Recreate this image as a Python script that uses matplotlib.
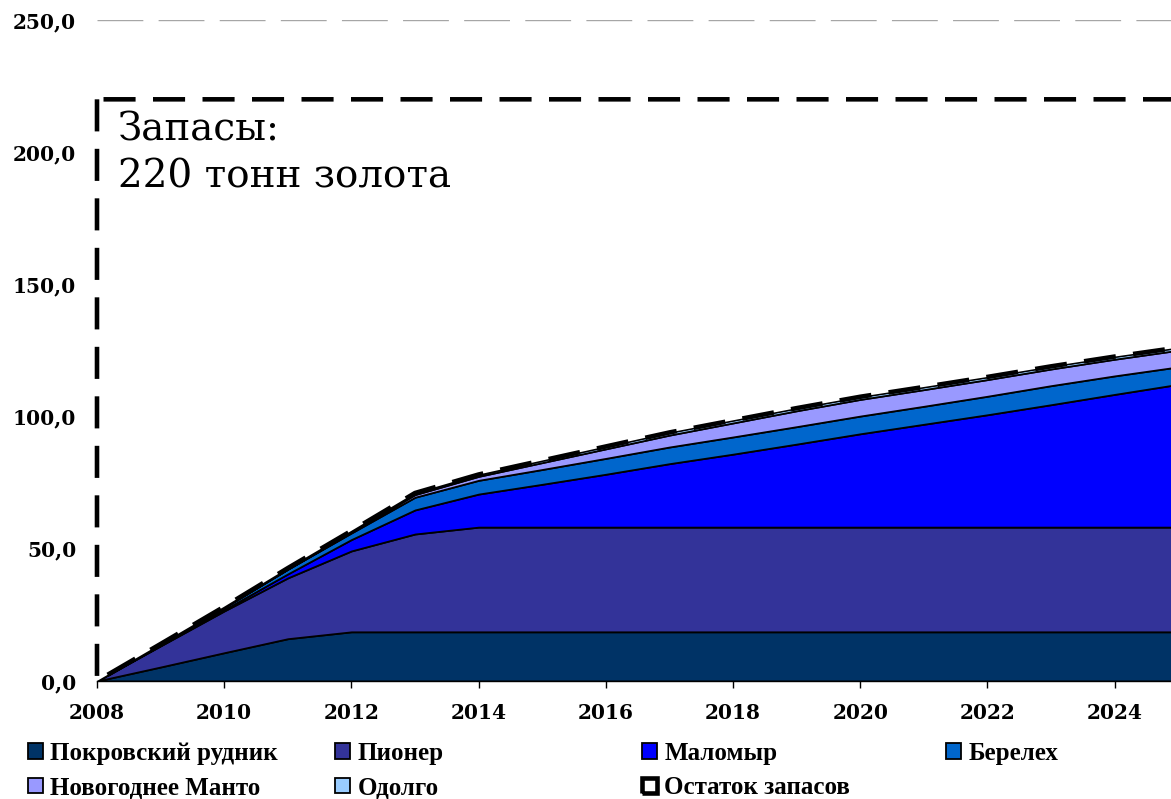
import matplotlib
matplotlib.use("Agg")
import matplotlib.pyplot as plt
import numpy as np

# ------------------ DATA (t of gold, cumulative by deposit) ------------------
years = list(range(2008, 2026))
pokrovsky = [0, 5.3, 10.7, 16.0, 18.6, 18.6, 18.6, 18.6, 18.6, 18.6, 18.6, 18.6, 18.6, 18.6, 18.6, 18.6, 18.6, 18.6]
pioneer = [0, 8.0, 15.8, 23.0, 30.6, 37.0, 39.6, 39.6, 39.6, 39.6, 39.6, 39.6, 39.6, 39.6, 39.6, 39.6, 39.6, 39.6]
malomyr = [0, 0.2, 0.5, 1.5, 4.3, 9.1, 12.5, 16.2, 20.0, 24.0, 27.6, 31.4, 35.3, 38.9, 42.5, 46.3, 50.2, 54.0]
berelekh = [0, 0.3, 0.8, 1.8, 2.5, 4.8, 5.2, 5.6, 6.0, 6.3, 6.5, 6.6, 6.7, 6.8, 7.0, 7.2, 7.0, 6.6]
novogodnee = [0, 0, 0, 0, 0.3, 1.0, 1.5, 2.6, 3.6, 4.5, 5.3, 6.0, 6.3, 6.3, 6.3, 6.3, 6.3, 6.3]
odolgo = [0, 0.2, 0.3, 0.4, 0.5, 0.6, 0.7, 0.8, 0.9, 1.0, 1.0, 1.0, 1.0, 1.0, 1.0, 1.0, 1.0, 1.0]
TOTAL_RESERVES = 220

labels = ['Покровский рудник', 'Пионер', 'Маломыр', 'Берелех',
          'Новогоднее Манто', 'Одолго', 'Остаток запасов']
colors = ['#003366', '#333399', '#0000FF', '#0066CC', '#9999FF', '#99CCFF', 'white']

mined = np.array([pokrovsky, pioneer, malomyr, berelekh, novogodnee, odolgo])
remainder = TOTAL_RESERVES - mined.sum(axis=0)

# ------------------ PLOT ------------------
fig = plt.figure(figsize=(11.71, 7.99), dpi=100)
ax = fig.add_axes([97 / 1171, 118 / 799, 1 - 97 / 1171, 661 / 799])

polys = ax.stackplot(years, *mined, remainder, labels=labels, colors=colors,
                     edgecolor='black', linewidth=1.3, zorder=2)

# "remaining reserves" area: white with heavy dashed border
rest = polys[-1]
rest.set_linewidth(3.3)
rest.set_linestyle((0, (7, 3.8)))
rest.set_clip_on(False)
rest.set_zorder(3)

# solid outline of the mined total under the dashes
ax.plot(years, mined.sum(axis=0), color='black', linewidth=1.8, zorder=2.5)

ax.set_xlim(2008, 2008 + (1171 - 97) / 63.6)
ax.set_ylim(0, 250)

ax.set_yticks(np.arange(0, 251, 50))
ax.set_yticklabels([f'{v:.1f}'.replace('.', ',') for v in np.arange(0, 251, 50)])
ax.set_xticks(range(2008, 2025, 2))

tick_font = dict(family='DejaVu Serif', weight='bold', size=14.5)
for lbl in ax.get_xticklabels() + ax.get_yticklabels():
    lbl.set_fontproperties(matplotlib.font_manager.FontProperties(**tick_font))

ax.tick_params(axis='y', length=0, pad=15)
ax.tick_params(axis='x', length=5, width=1, direction='out', pad=11, color='black')

for side in ['top', 'right', 'left']:
    ax.spines[side].set_visible(False)
ax.spines['bottom'].set_linewidth(1)
ax.spines['bottom'].set_zorder(4)

ax.yaxis.grid(True, color='#A6A6A6', linewidth=1, linestyle=(0, (33, 11)), zorder=0)
ax.set_axisbelow(True)

ax.text(2008.33, 199.5, 'Запасы:\n220 тонн золота', family='DejaVu Serif',
        fontsize=28, va='center', ha='left', linespacing=1.33, zorder=5)

# legend: four fixed columns
col_x = [28 / 1171, 335 / 1171, 642 / 1171, 946 / 1171]
columns = [[0, 4], [1, 5], [2, 6], [3]]
for cx, idx in zip(col_x, columns):
    leg = fig.legend([polys[i] for i in idx], [labels[i] for i in idx],
                     loc='upper left', bbox_to_anchor=(cx, 57 / 799),
                     frameon=False, borderpad=0, borderaxespad=0,
                     handlelength=0.6, handleheight=0.6, handletextpad=0.3,
                     labelspacing=0.45,
                     prop=dict(family='Liberation Serif', weight='bold', size=18))

fig.savefig('out.png', dpi=100)
